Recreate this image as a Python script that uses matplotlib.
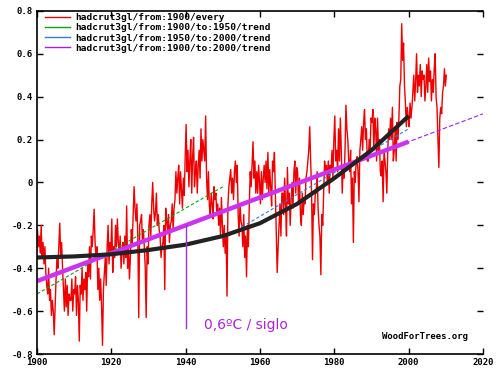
import numpy as np
import matplotlib
matplotlib.use("Agg")
from matplotlib import pyplot as plt
from matplotlib.lines import Line2D

# HadCRUT3 global anomaly at 4 points per year (1900 .. early 2010)
hadcrut = [
    -0.22, -0.30, -0.25, -0.33,  -0.20, -0.35, -0.28, -0.38,  -0.30, -0.42, -0.48, -0.52,
    -0.40, -0.55, -0.50, -0.62,  -0.55, -0.60, -0.71, -0.58,  -0.45, -0.35, -0.40, -0.30,
    -0.19, -0.35, -0.28, -0.40,  -0.50, -0.60, -0.45, -0.58,  -0.48, -0.62, -0.52, -0.55,
    -0.55, -0.45, -0.60, -0.50,                                                      # 1900s
    -0.52, -0.44, -0.62, -0.48,  -0.55, -0.74, -0.48, -0.52,  -0.40, -0.55, -0.45, -0.50,
    -0.42, -0.60, -0.38, -0.44,  -0.30, -0.45, -0.25, -0.30,  -0.22, -0.125, -0.28, -0.35,
    -0.30, -0.50, -0.40, -0.55,  -0.45, -0.58, -0.76, -0.50,  -0.42, -0.35, -0.48, -0.30,
    -0.20, -0.38, -0.28, -0.32,                                                      # 1910s
    -0.17, -0.42, -0.30, -0.35,  -0.20, -0.30, -0.17, -0.28,  -0.33, -0.25, -0.40, -0.32,
    -0.28, -0.38, -0.25, -0.35,  -0.11, -0.40, -0.30, -0.45,  -0.35, -0.22, -0.28, -0.15,
    -0.02, -0.12, -0.18, -0.10,  -0.25, -0.63, -0.20, -0.18,  -0.15, -0.28, -0.22, -0.30,
    -0.40, -0.63, -0.30, -0.38,                                                      # 1920s
    -0.20, -0.15, -0.25, -0.10,   0.00, -0.12, -0.18, -0.14,  -0.05, -0.20, -0.15, -0.22,
    -0.25, -0.35, -0.30, -0.28,  -0.20, -0.50, -0.12, -0.18,  -0.22, -0.15, -0.28, -0.20,
    -0.18, -0.10, -0.22, -0.12,  -0.08,  0.05, -0.05,  0.02,   0.08, -0.10,  0.05, -0.04,
    -0.12,  0.02, -0.06,  0.12,                                                      # 1930s
     0.27,  0.05,  0.15, -0.02,   0.10,  0.20, -0.05,  0.12,   0.21, -0.02,  0.05,  0.10,
    -0.05,  0.08,  0.15,  0.02,   0.25,  0.10,  0.20,  0.15,   0.10,  0.31,  0.02, -0.08,
     0.05, -0.11, -0.15, -0.05,  -0.10, -0.17, -0.02, -0.08,  -0.05, -0.15, -0.10, -0.20,
    -0.12, -0.25, -0.07, -0.20,                                                      # 1940s
    -0.30, -0.20, -0.33, -0.25,  -0.53, -0.10, -0.02,  0.02,   0.06, -0.05,  0.02, -0.08,
     0.05,  0.10,  0.00,  0.08,  -0.15, -0.25, -0.10, -0.18,  -0.20, -0.30, -0.15, -0.35,
    -0.25, -0.44, -0.20, -0.30,  -0.10,  0.05, -0.02,  0.08,   0.19,  0.02,  0.10, -0.05,
     0.05, -0.05,  0.08,  0.00,                                                      # 1950s
    -0.10,  0.05, -0.08,  0.02,   0.08,  0.00,  0.10, -0.03,   0.14, -0.05,  0.06, -0.02,
    -0.11,  0.10,  0.05,  0.14,  -0.05, -0.25, -0.42, -0.30,  -0.20, -0.10, -0.25, -0.05,
    -0.05, -0.15,  0.02, -0.10,  -0.25,  0.07, -0.10, -0.05,  -0.20, -0.08,  0.00, -0.12,
     0.05,  0.10, -0.05,  0.07,                                                      # 1960s
     0.05, -0.10,  0.02, -0.15,  -0.20, -0.05, -0.15, -0.08,  -0.10,  0.02,  0.05,  0.10,
     0.15,  0.26,  0.10, -0.05,  -0.36, -0.10, -0.15, -0.05,  -0.05,  0.05, -0.12, -0.20,
    -0.25, -0.43, -0.15, -0.20,  -0.05,  0.10,  0.05,  0.08,   0.00,  0.10, -0.05,  0.08,
     0.05,  0.15,  0.02,  0.20,                                                      # 1970s
     0.31,  0.10,  0.15,  0.05,   0.25,  0.10,  0.30,  0.15,  -0.05,  0.08,  0.02,  0.15,
     0.36,  0.25,  0.20,  0.10,   0.05,  0.15, -0.10,  0.02,  -0.28,  0.05,  0.00,  0.10,
     0.12,  0.05, -0.09,  0.15,   0.20,  0.26,  0.15,  0.28,   0.34,  0.20,  0.25,  0.10,
     0.10,  0.20,  0.15,  0.30,                                                      # 1980s
     0.28,  0.34,  0.15,  0.30,   0.25,  0.10,  0.30,  0.15,   0.20,  0.05,  0.03,  0.10,
    -0.09,  0.15,  0.10,  0.05,  -0.05,  0.15,  0.25,  0.20,   0.30,  0.20,  0.35,  0.10,
     0.15,  0.25,  0.10,  0.28,   0.20,  0.30,  0.45,  0.48,   0.74,  0.57,  0.65,  0.45,
     0.37,  0.26,  0.35,  0.30,                                                      # 1990s
     0.26,  0.37,  0.30,  0.35,   0.42,  0.50,  0.38,  0.47,   0.60,  0.42,  0.50,  0.45,
     0.55,  0.40,  0.52,  0.48,   0.50,  0.38,  0.45,  0.55,   0.42,  0.58,  0.47,  0.52,
     0.38,  0.48,  0.42,  0.53,   0.60,  0.40,  0.35,  0.20,   0.07,  0.30,  0.35,  0.32,
     0.42,  0.45,  0.53,  0.45,                                                      # 2000s
     0.50,
]
years = 1900.125 + 0.25 * np.arange(len(hadcrut))

# trend segments ([start year, end year], [start value, end value])
trend_1900_1950 = ([1900, 1950], [-0.52, -0.02])
trend_1950_2000 = ([1950, 2000], [-0.26, 0.25])
trend_1900_2000 = ([1900, 2000], [-0.46, 0.19])
trend_extended = ([1900, 2020], [-0.46, 0.32])

# black smooth curve, read at decades
curve_years = [1900, 1910, 1920, 1930, 1940, 1950, 1960, 1970, 1980, 1990, 2000]
curve_vals = [-0.35, -0.345, -0.335, -0.315, -0.29, -0.25, -0.19, -0.10, 0.02, 0.15, 0.31]

legend_labels = ['hadcrut3gl/from:1900/every',
                 'hadcrut3gl/from:1900/to:1950/trend',
                 'hadcrut3gl/from:1950/to:2000/trend',
                 'hadcrut3gl/from:1900/to:2000/trend']
legend_colors = ['#ee0000', '#10a010', '#2a80e0', '#a020f0']

y_ticks = [-0.8, -0.6, -0.4, -0.2, 0, 0.2, 0.4, 0.6, 0.8]
y_ticklabels = ['-0.8', '-0.6', '-0.4', '-0.2', '0', '0.2', '0.4', '0.6', '0.8']

fig = plt.figure(figsize=(5, 3.75), dpi=100)
ax = fig.add_axes([0.074, 0.056, 0.892, 0.915])

ax.plot(years, hadcrut, color='#ee0000', lw=1.0)
ax.plot(*trend_1900_1950, color='#10a010', lw=0.8, ls=(0, (3, 2)))
ax.plot(*trend_1950_2000, color='#2a80e0', lw=0.8, ls=(0, (3, 2)))
ax.plot(*trend_extended, color='#a020f0', lw=0.8, ls=(0, (4, 2)))
ax.plot(*trend_1900_2000, color='#cc33ee', lw=3.2, solid_capstyle='butt')
ax.plot(curve_years, curve_vals, color='#222222', lw=3.0, solid_capstyle='butt')

# vertical marker and annotation
ax.plot([1940, 1940], [-0.20, -0.68], color='#9933cc', lw=1.0)
ax.text(1945, -0.665, '0,6ºC / siglo', color='#aa22dd', fontsize=10,
        ha='left', va='center')
ax.text(2016, -0.72, 'WoodForTrees.org', fontsize=6.5, family='DejaVu Sans Mono',
        weight='bold', ha='right', va='center')

ax.set_xlim(1900, 2020)
ax.set_ylim(-0.8, 0.8)
ax.set_xticks(np.arange(1900, 2021, 20))
ax.set_yticks(y_ticks)
ax.set_yticklabels(y_ticklabels)
ax.tick_params(direction='in', top=True, right=True, length=4, width=1,
               labelsize=6.5, pad=3)
for lab in ax.get_xticklabels() + ax.get_yticklabels():
    lab.set_family('DejaVu Sans Mono')
    lab.set_weight('bold')
ax.spines['right'].set_visible(False)
for s in ['left', 'bottom', 'top']:
    ax.spines[s].set_linewidth(1.2)

handles = [Line2D([], [], color=c, lw=1.0) for c in legend_colors]
ax.legend(handles, legend_labels, loc='upper left', bbox_to_anchor=(0.0, 1.015),
          frameon=False,
          prop={'family': 'DejaVu Sans Mono', 'weight': 'bold', 'size': 6.8},
          handlelength=2.7, handletextpad=0.6, labelspacing=0.12,
          borderaxespad=0.4)

fig.savefig('out.png', dpi=100)
